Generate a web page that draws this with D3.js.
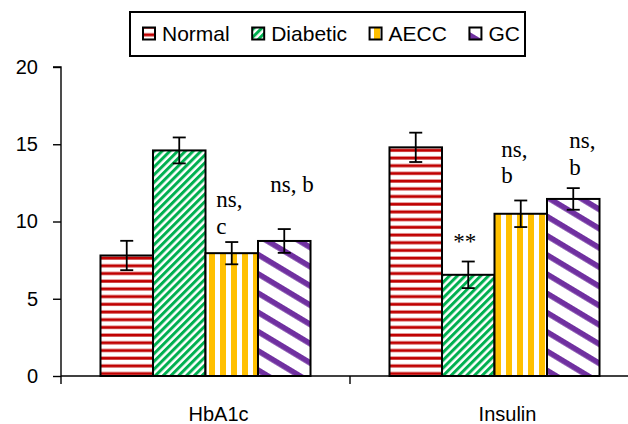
<!DOCTYPE html>
<html>
<head>
<meta charset="utf-8">
<script src="https://cdn.jsdelivr.net/npm/d3@7"></script>
<style>
  html, body { margin: 0; padding: 0; background: #fff; }
  svg { display: block; }
</style>
</head>
<body>
<svg id="chart" width="628" height="424"></svg>
<script>
// ---- data ----
const categories = ["HbA1c", "Insulin"];
const seriesNames = ["Normal", "Diabetic", "AECC", "GC"];
const normalValues   = [7.8, 14.8];
const normalErrors   = [0.95, 0.95];
const diabeticValues = [14.6, 6.55];
const diabeticErrors = [0.84, 0.86];
const aeccValues     = [7.95, 10.5];
const aeccErrors     = [0.72, 0.86];
const gcValues       = [8.74, 11.46];
const gcErrors       = [0.77, 0.7];
const yTicks = [0, 5, 10, 15, 20];
// significance labels: [series, category, lines]
const sigLabels = [
  ["AECC", "HbA1c", ["ns,", "c"]],
  ["GC", "HbA1c", ["ns, b"]],
  ["Diabetic", "Insulin", ["**"]],
  ["AECC", "Insulin", ["ns,", "b"]],
  ["GC", "Insulin", ["ns,", "b"]]
];

// ---- layout / style ----
const valuesBySeries = {Normal: normalValues, Diabetic: diabeticValues, AECC: aeccValues, GC: gcValues};
const errorsBySeries = {Normal: normalErrors, Diabetic: diabeticErrors, AECC: aeccErrors, GC: gcErrors};
const patternId = {Normal: "pNormal", Diabetic: "pDiabetic", AECC: "pAECC", GC: "pGC"};
// label offsets (dx from bar centre, baselines relative to error-bar top)
const labelLayout = {
  "AECC|HbA1c": {dx: -15.5, dy: [-35, -8]},
  "GC|HbA1c": {dx: -14, dy: [-37]},
  "Diabetic|Insulin": {dx: -15, dy: [-13]},
  "AECC|Insulin": {dx: -19.5, dy: [-43, -17]},
  "GC|Insulin": {dx: -4, dy: [-40, -13]}
};

const svg = d3.select("#chart");
const defs = svg.append("defs");

// patterns
const pN = defs.append("pattern").attr("id", "pNormal").attr("patternUnits", "userSpaceOnUse")
  .attr("width", 8).attr("height", 7.7);
pN.append("rect").attr("width", 8).attr("height", 7.7).attr("fill", "#fff");
pN.append("rect").attr("y", 2.5).attr("width", 8).attr("height", 3).attr("fill", "#C00000");

const pD = defs.append("pattern").attr("id", "pDiabetic").attr("patternUnits", "userSpaceOnUse")
  .attr("width", 5.5).attr("height", 10).attr("patternTransform", "rotate(45)");
pD.append("rect").attr("width", 5.5).attr("height", 10).attr("fill", "#fff");
pD.append("rect").attr("width", 3).attr("height", 10).attr("fill", "#00B050");

const pA = defs.append("pattern").attr("id", "pAECC").attr("patternUnits", "userSpaceOnUse")
  .attr("width", 11).attr("height", 10);
pA.append("rect").attr("width", 11).attr("height", 10).attr("fill", "#fff");
pA.append("rect").attr("x", 0).attr("width", 6).attr("height", 10).attr("fill", "#FFC000");

const pG = defs.append("pattern").attr("id", "pGC").attr("patternUnits", "userSpaceOnUse")
  .attr("width", 10).attr("height", 16.5).attr("patternTransform", "rotate(31)");
pG.append("rect").attr("width", 10).attr("height", 16.5).attr("fill", "#fff");
pG.append("rect").attr("y", 0).attr("width", 10).attr("height", 5.6).attr("fill", "#7030A0");

// scales
const x0 = d3.scaleBand().domain(categories).range([61, 639]).padding(0);
const x1 = d3.scaleBand().domain(seriesNames).range([0, x0.bandwidth()]).paddingInner(0).paddingOuter(0.752);
const y = d3.scaleLinear().domain([0, 20]).range([376, 67]);

// bars
const barData = [];
seriesNames.forEach(s => categories.forEach((c, i) => {
  barData.push({s, c, v: valuesBySeries[s][i], e: errorsBySeries[s][i]});
}));

const gBars = svg.append("g");
gBars.selectAll("rect").data(barData).join("rect")
  .attr("x", d => x0(d.c) + x1(d.s))
  .attr("y", d => y(d.v))
  .attr("width", x1.bandwidth())
  .attr("height", d => y(0) - y(d.v))
  .attr("fill", d => `url(#${patternId[d.s]})`)
  .attr("stroke", "#000")
  .attr("stroke-width", 2);

// error bars
const gErr = svg.append("g").attr("stroke", "#000").attr("stroke-width", 1.8).attr("fill", "none");
barData.forEach(d => {
  const cx = x0(d.c) + x1(d.s) + x1.bandwidth() / 2;
  const t = y(d.v + d.e), b = y(d.v - d.e);
  gErr.append("line").attr("x1", cx).attr("x2", cx).attr("y1", t).attr("y2", b);
  gErr.append("line").attr("x1", cx - 6.5).attr("x2", cx + 6.5).attr("y1", t).attr("y2", t);
  gErr.append("line").attr("x1", cx - 6.5).attr("x2", cx + 6.5).attr("y1", b).attr("y2", b);
});

// significance labels
const gSig = svg.append("g").attr("font-family", "'Liberation Serif', 'Times New Roman', serif")
  .attr("font-size", 23).attr("fill", "#000");
sigLabels.forEach(([s, c, lines]) => {
  const i = categories.indexOf(c);
  const v = valuesBySeries[s][i], e = errorsBySeries[s][i];
  const cx = x0(c) + x1(s) + x1.bandwidth() / 2;
  const lay = labelLayout[s + "|" + c];
  lines.forEach((txt, k) => {
    gSig.append("text").attr("x", cx + lay.dx).attr("y", y(v + e) + lay.dy[k]).text(txt);
  });
});

// y axis
const yAxis = d3.axisLeft(y).tickValues(yTicks).tickSize(8).tickPadding(15);
const gy = svg.append("g").attr("transform", "translate(61,0)").call(yAxis);
gy.select(".domain").attr("stroke", "#000").attr("stroke-width", 1.4).attr("d", `M-8,${y(20)}H0V${y(0)}`);
gy.selectAll(".tick line").attr("stroke", "#000").attr("stroke-width", 1.4);
gy.selectAll(".tick text").attr("font-family", "'Liberation Sans', Arial, sans-serif")
  .attr("font-size", 20).attr("fill", "#000");

// x axis
const gx = svg.append("g");
gx.append("line").attr("x1", 61).attr("x2", 628).attr("y1", y(0)).attr("y2", y(0))
  .attr("stroke", "#000").attr("stroke-width", 1.4);
const boundaries = categories.map(c => x0(c)).concat([x0(categories[categories.length - 1]) + x0.bandwidth()]);
gx.selectAll("line.tk").data(boundaries).join("line").attr("class", "tk")
  .attr("x1", d => d).attr("x2", d => d).attr("y1", y(0)).attr("y2", y(0) + 8)
  .attr("stroke", "#000").attr("stroke-width", 1.4);
gx.selectAll("text").data(categories).join("text")
  .attr("x", d => x0(d) + x0.bandwidth() / 2 + 13)
  .attr("y", 421)
  .attr("text-anchor", "middle")
  .attr("font-family", "'Liberation Sans', Arial, sans-serif")
  .attr("font-size", 20).attr("fill", "#000")
  .text(d => d);

// legend
const gLeg = svg.append("g");
gLeg.append("rect").attr("x", 130).attr("y", 12).attr("width", 395).attr("height", 44)
  .attr("fill", "#fff").attr("stroke", "#000").attr("stroke-width", 2);
let lx = 142;
seriesNames.forEach(s => {
  const g = gLeg.append("g");
  g.append("rect").attr("x", lx + 1).attr("y", 27.5).attr("width", 12).attr("height", 12)
    .attr("fill", `url(#${patternId[s]})`).attr("stroke", "#000").attr("stroke-width", 2);
  const t = g.append("text").attr("x", lx + 20).attr("y", 41)
    .attr("font-family", "'Liberation Sans', Arial, sans-serif")
    .attr("font-size", 21).attr("fill", "#000").text(s);
  lx = lx + 20 + t.node().getComputedTextLength() + 21.5;
});
</script>
</body>
</html>
